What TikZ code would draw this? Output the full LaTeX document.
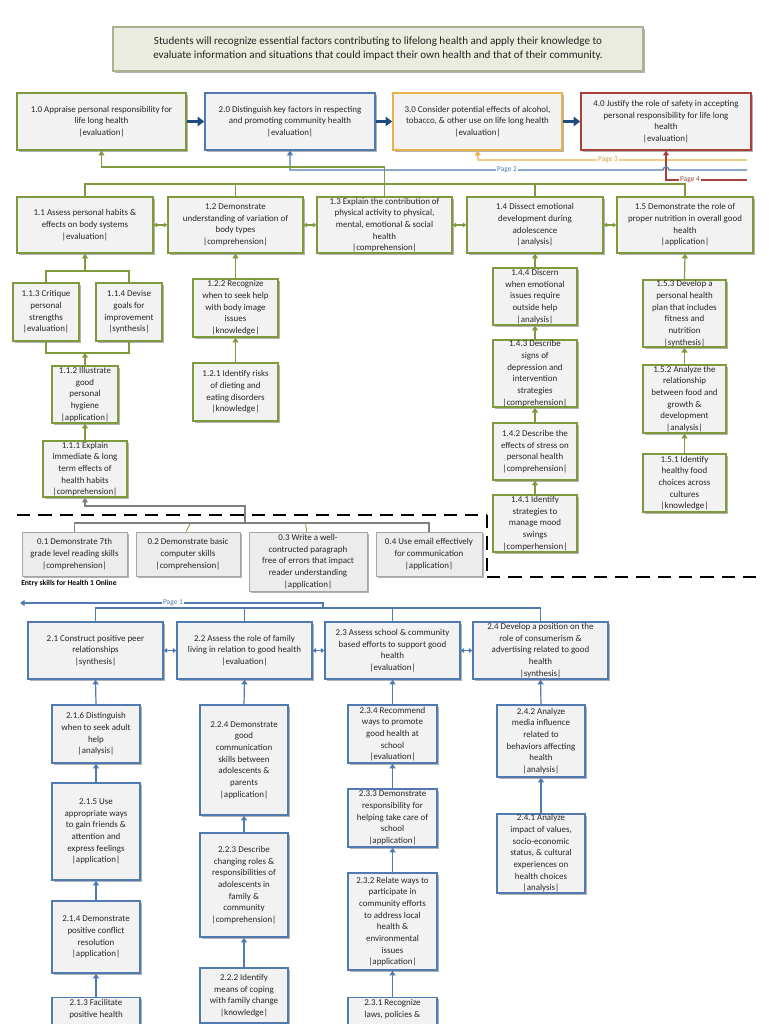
\documentclass[tikz,border=0pt]{standalone}
\usepackage{fontspec}
\newfontfamily\cb{Carlito}
\usetikzlibrary{arrows.meta,shadows}
\definecolor{grn}{HTML}{7F9A3C}
\definecolor{blu}{HTML}{4F7BB0}
\definecolor{navy}{HTML}{1F4A7D}
\definecolor{gold}{HTML}{E8B44A}
\definecolor{rd}{HTML}{A8403C}
\definecolor{boxfill}{HTML}{F2F2F2}
\definecolor{tfill}{HTML}{E9ECDF}
\definecolor{tdraw}{HTML}{A9B394}
\definecolor{efill}{HTML}{ECECEC}
\definecolor{edraw}{HTML}{A6A6A6}
\newcommand{\bx}[7]{\node[#2, minimum width={(#5-#3)*0.75pt}, minimum height={(#6-#4)*0.75pt}] (#1) at ({(#3+#5)/2},{(#4+#6)/2}) {#7};}
\begin{document}
\begin{tikzpicture}[x=0.75pt,y=-0.75pt,
 base/.style={rectangle, line width=1.1pt, fill=boxfill, inner sep=0.5pt, align=center, text=black!85,
   font=\cb\fontsize{6.7}{8.75}\selectfont,
   drop shadow={shadow xshift=1.3pt, shadow yshift=-1.3pt, fill=black, opacity=0.3}},
 gbox/.style={base, draw=grn},
 bbox/.style={base, draw=blu},
 obox/.style={base, draw=gold},
 rbox/.style={base, draw=rd},
 ebox/.style={base, draw=edraw, line width=0.7pt, fill=efill},
 tbox/.style={base, draw=tdraw, line width=0.8pt, fill=tfill, font=\cb\fontsize{8.3}{10.5}\selectfont},
 garr/.style={draw=grn, line width=0.9pt, -{Triangle[width=4.5pt,length=3.5pt]}},
 gline/.style={draw=grn, line width=0.9pt},
 gdbl/.style={draw=grn, line width=0.8pt, {Triangle[width=3.5pt,length=2.5pt]}-{Triangle[width=3.5pt,length=2.5pt]}},
 barr/.style={draw=blu, line width=0.9pt, -{Triangle[width=4.5pt,length=3.5pt]}},
 bline/.style={draw=blu, line width=0.9pt},
 bdbl/.style={draw=blu, line width=0.8pt, {Triangle[width=3.5pt,length=2.5pt]}-{Triangle[width=3.5pt,length=2.5pt]}},
 narr/.style={draw=navy, line width=1.6pt, -{Triangle[width=7pt,length=5pt]}},
 grarr/.style={draw=gray, line width=0.8pt, -{Triangle[width=4.5pt,length=3.5pt]}},
 grline/.style={draw=gray, line width=0.8pt},
 pglab/.style={fill=white, inner sep=0.6pt, font=\cb\fontsize{5.6}{6}\selectfont},
 dsh/.style={draw=black, line width=0.9pt, dash pattern=on 10pt off 6pt}
]
\useasboundingbox (0,0) rectangle (768,1024);
\clip (0,0) rectangle (768,1024);
\fill[white] (0,0) rectangle (768,1024);

% title
\bx{title}{tbox}{113}{27}{643}{71}{Students will recognize essential factors contributing to lifelong health and apply their knowledge to\\ evaluate information and situations that could impact their own health and that of their community.}

% top row
\bx{t10}{gbox}{17}{93}{186}{150}{1.0 Appraise personal responsibility for\\ life long health\\ |evaluation|}
\bx{t20}{bbox}{205}{93}{375}{150}{2.0 Distinguish key factors in respecting\\ and promoting community health\\ |evaluation|}
\bx{t30}{obox}{393}{93}{562}{150}{3.0 Consider potential effects of alcohol,\\ tobacco, \& other use on life long health\\ |evaluation|}
\bx{t40}{rbox}{581}{93}{751}{150}{4.0 Justify the role of safety in accepting\\ personal responsibility for life long\\ health\\ |evaluation|}
\draw[narr] (t10) -- (t20);
\draw[narr] (t20) -- (t30);
\draw[narr] (t30) -- (t40);

% row 2
\bx{n11}{gbox}{17}{197}{153}{253}{1.1 Assess personal habits \&\\ effects on body systems\\ |evaluation|}
\bx{n12}{gbox}{168}{197}{303}{253}{1.2 Demonstrate\\ understanding of variation of\\ body types\\ |comprehension|}
\bx{n13}{gbox}{317}{197}{452}{253}{1.3 Explain the contribution of\\ physical activity to physical,\\ mental, emotional \& social\\ health\\ |comprehension|}
\bx{n14}{gbox}{467}{197}{603}{253}{1.4 Dissect emotional\\ development during\\ adolescence\\ |analysis|}
\bx{n15}{gbox}{617}{197}{753}{253}{1.5 Demonstrate the role of\\ proper nutrition in overall good\\ health\\ |application|}
\draw[gdbl] (n11) -- (n12);
\draw[gdbl] (n12) -- (n13);
\draw[gdbl] (n13) -- (n14);
\draw[gdbl] (n14) -- (n15);

% page connectors
\coordinate (p3end) at (747,160);
\coordinate (p2end) at (747,170);
\coordinate (p4end) at (747,180);
\draw[draw=gold, line width=0.9pt, -{Triangle[width=4.5pt,length=3.5pt]}] (p3end) -- (478,160) -- (t30.south);
\draw[draw=rd, line width=0.9pt, -{Triangle[width=4.5pt,length=3.5pt]}] (p4end) -- (666,180) -- (t40.south);
\draw[bline, -{Triangle[width=4.5pt,length=3.5pt]}] (p2end) -- (669,170) arc[start angle=0, end angle=-180, radius=3] -- (290,170) -- (t20.south);
\node[pglab, text=gold!90!black] (lp3) at (608,160) {Page 3};
\node[pglab, text=blu] (lp2) at (507,170) {Page 2};
\node[pglab, text=rd] (lp4) at (690,180) {Page 4};

% green buses
\draw[garr] (n13.north) -- (384.5,167) -- (101.5,167) -- (t10.south);
\coordinate (gb1) at (85,184);
\coordinate (gb5) at (685,184);
\draw[gline] (n11.north) -- (gb1) -- (gb5) -- (n15.north);
\draw[gline] (n12.north) -- (235.5,184);
\draw[gline] (n14.north) -- (535,184);

% 1.1 children
\bx{n113}{gbox}{13}{283}{79}{341}{1.1.3 Critique\\ personal\\ strengths\\ |evaluation|}
\bx{n114}{gbox}{96}{283}{162}{341}{1.1.4 Devise\\ goals for\\ improvement\\ |synthesis|}
\bx{n112}{gbox}{52}{366}{118}{423}{1.1.2 Illustrate\\ good\\ personal\\ hygiene\\ |application|}
\bx{n111}{gbox}{43}{441}{127}{497}{1.1.1 Explain\\ immediate \& long\\ term effects of\\ health habits\\ |comprehension|}
\coordinate (bt) at (85,271);
\coordinate (bb) at (85,353);
\draw[gline] (n113.north) -- (46,271) -- (129,271) -- (n114.north);
\draw[garr] (bt) -- (n11.south);
\draw[gline] (n113.south) -- (46,353) -- (129,353) -- (n114.south);
\draw[garr] (n112.north) -- (bb);
\draw[garr] (n111.north) -- (n112.south);

% 1.2 children
\bx{n122}{gbox}{193}{279}{278}{337}{1.2.2 Recognize\\ when to seek help\\ with body image\\ issues\\ |knowledge|}
\bx{n121}{gbox}{193}{363}{278}{421}{1.2.1 Identify risks\\ of dieting and\\ eating disorders\\ |knowledge|}
\draw[garr] (n122.north) -- (n12.south);
\draw[garr] (n121.north) -- (n122.south);

% 1.4 children
\bx{n144}{gbox}{493}{268}{577}{325}{1.4.4 Discern\\ when emotional\\ issues require\\ outside help\\ |analysis|}
\bx{n143}{gbox}{493}{340}{577}{407}{1.4.3 Describe\\ signs of\\ depression and\\ intervention\\ strategies\\ |comprehension|}
\bx{n142}{gbox}{493}{423}{577}{480}{1.4.2 Describe the\\ effects of stress on\\ personal health\\ |comprehension|}
\bx{n141}{gbox}{493}{495}{577}{552}{1.4.1 Identify\\ strategies to\\ manage mood\\ swings\\ |comperhension|}
\draw[garr] (n144.north) -- (n14.south);
\draw[garr] (n143.north) -- (n144.south);
\draw[garr] (n142.north) -- (n143.south);
\draw[garr] (n141.north) -- (n142.south);

% 1.5 children
\bx{n153}{gbox}{643}{280}{726}{347}{1.5.3 Develop a\\ personal health\\ plan that includes\\ fitness and\\ nutrition\\ |synthesis|}
\bx{n152}{gbox}{643}{365}{726}{433}{1.5.2 Analyze the\\ relationship\\ between food and\\ growth \&\\ development\\ |analysis|}
\bx{n151}{gbox}{643}{454}{726}{512}{1.5.1 Identify\\ healthy food\\ choices across\\ cultures\\ |knowledge|}
\draw[garr] (n153.north) -- (n15.south);
\draw[garr] (n152.north) -- (n153.south);
\draw[garr] (n151.north) -- (n152.south);

% dashed separators
\coordinate (d1) at (17,515);
\coordinate (d2) at (487,515);
\coordinate (d3) at (487,577);
\coordinate (d4) at (758,577);
\draw[dsh] (d1) -- (d2);
\draw[dsh] (d2) -- (d3);
\draw[dsh] (d3) -- (d4);

% entry skills
\bx{e01}{ebox}{22}{532}{127}{576}{0.1 Demonstrate 7th\\ grade level reading skills\\ |comprehension|}
\bx{e02}{ebox}{136}{532}{240}{576}{0.2 Demonstrate basic\\ computer skills\\ |comprehension|}
\bx{e03}{ebox}{249}{532}{367}{591}{0.3 Write a well-\\ contructed paragraph\\ free of errors that impact\\ reader understanding\\ |application|}
\bx{e04}{ebox}{376}{532}{482}{576}{0.4 Use email effectively\\ for communication\\ |application|}
\coordinate (eb) at (245,523);
\draw[grline] (e01.north) -- (74.5,523) -- (429,523) -- (e04.north);
\draw[grarr] (eb) -- (245,506) -- (85,506) -- (n111.south);
\draw[gline, line width=0.6pt] ([xshift=-1.5pt]e02.north) -- (190.5,523);
\draw[gline, line width=0.6pt] ([xshift=-1pt]e03.north) -- (305.5,523);
\node[anchor=west, inner sep=0pt, font=\cb\bfseries\fontsize{5.7}{6}\selectfont] (entry) at (21,583) {Entry skills for Health 1 Online};

% row 3
\bx{n21}{bbox}{28}{622}{163}{679}{2.1 Construct positive peer\\ relationships\\ |synthesis|}
\bx{n22}{bbox}{177}{622}{312}{679}{2.2 Assess the role of family\\ living in relation to good health\\ |evaluation|}
\bx{n23}{bbox}{325}{622}{460}{679}{2.3 Assess school \& community\\ based efforts to support good\\ health\\ |evaluation|}
\bx{n24}{bbox}{473}{622}{608}{679}{2.4 Develop a position on the\\ role of consumerism \&\\ advertising related to good\\ health\\ |synthesis|}
\draw[bdbl] (n21) -- (n22);
\draw[bdbl] (n22) -- (n23);
\draw[bdbl] (n23) -- (n24);
\coordinate (p1end) at (20,603);
\draw[bline] (n21.north) -- (95.5,608) -- (540.5,608) -- (n24.north);
\draw[bline] (n22.north) -- (244.5,608);
\draw[bline] (n23.north) -- (392.5,608);
\draw[bline, -{Triangle[width=4.5pt,length=3.5pt]}] (323,608) -- (323,603) -- (p1end);
\node[pglab, text=blu] (lp1) at (173,603) {Page 1};

% 2.1 column
\bx{n216}{bbox}{52}{705}{140}{763}{2.1.6 Distinguish\\ when to seek adult\\ help\\ |analysis|}
\bx{n215}{bbox}{52}{783}{140}{880}{2.1.5 Use\\ appropriate ways\\ to gain friends \&\\ attention and\\ express feelings\\ |application|}
\bx{n214}{bbox}{52}{901}{140}{973}{2.1.4 Demonstrate\\ positive conflict\\ resolution\\ |application|}
\node[bbox, minimum width={88*0.75pt}, anchor=north, inner ysep=1.5pt] (n213) at (96,997) {2.1.3 Facilitate\\ positive health\\ \rule{0pt}{40pt}};
\draw[barr] (n216.north) -- (n21.south);
\draw[barr] (n215.north) -- (n216.south);
\draw[barr] (n214.north) -- (n215.south);
\draw[barr] (n213.north) -- (n214.south);

% 2.2 column
\bx{n224}{bbox}{200}{705}{288}{815}{2.2.4 Demonstrate\\ good\\ communication\\ skills between\\ adolescents \&\\ parents\\ |application|}
\bx{n223}{bbox}{200}{833}{288}{937}{2.2.3 Describe\\ changing roles \&\\ responsibilities of\\ adolescents in\\ family \&\\ community\\ |comprehension|}
\bx{n222}{bbox}{200}{968}{288}{1023}{2.2.2 Identify\\ means of coping\\ with family change\\ |knowledge|}
\draw[barr] (n224.north) -- (n22.south);
\draw[barr] (n223.north) -- (n224.south);
\draw[barr] (n222.north) -- (n223.south);

% 2.3 column
\bx{n234}{bbox}{348}{705}{437}{763}{2.3.4 Recommend\\ ways to promote\\ good health at\\ school\\ |evaluation|}
\bx{n233}{bbox}{348}{789}{437}{847}{2.3.3 Demonstrate\\ responsibility for\\ helping take care of\\ school\\ |application|}
\bx{n232}{bbox}{348}{873}{437}{970}{2.3.2 Relate ways to\\ participate in\\ community efforts\\ to address local\\ health \&\\ environmental\\ issues\\ |application|}
\node[bbox, minimum width={89*0.75pt}, anchor=north, inner ysep=1.5pt] (n231) at (392.5,997) {2.3.1 Recognize\\ laws, policies \&\\ \rule{0pt}{40pt}};
\draw[barr] (n234.north) -- (n23.south);
\draw[barr] (n233.north) -- (n234.south);
\draw[barr] (n232.north) -- (n233.south);
\draw[barr] (n231.north) -- (n232.south);

% 2.4 column
\bx{n242}{bbox}{497}{705}{585}{777}{2.4.2 Analyze\\ media influence\\ related to\\ behaviors affecting\\ health\\ |analysis|}
\bx{n241}{bbox}{497}{814}{585}{893}{2.4.1 Analyze\\ impact of values,\\ socio-economic\\ status, \& cultural\\ experiences on\\ health choices\\ |analysis|}
\draw[barr] (n242.north) -- (n24.south);
\draw[barr] (n241.north) -- (n242.south);
\end{tikzpicture}
\end{document}
